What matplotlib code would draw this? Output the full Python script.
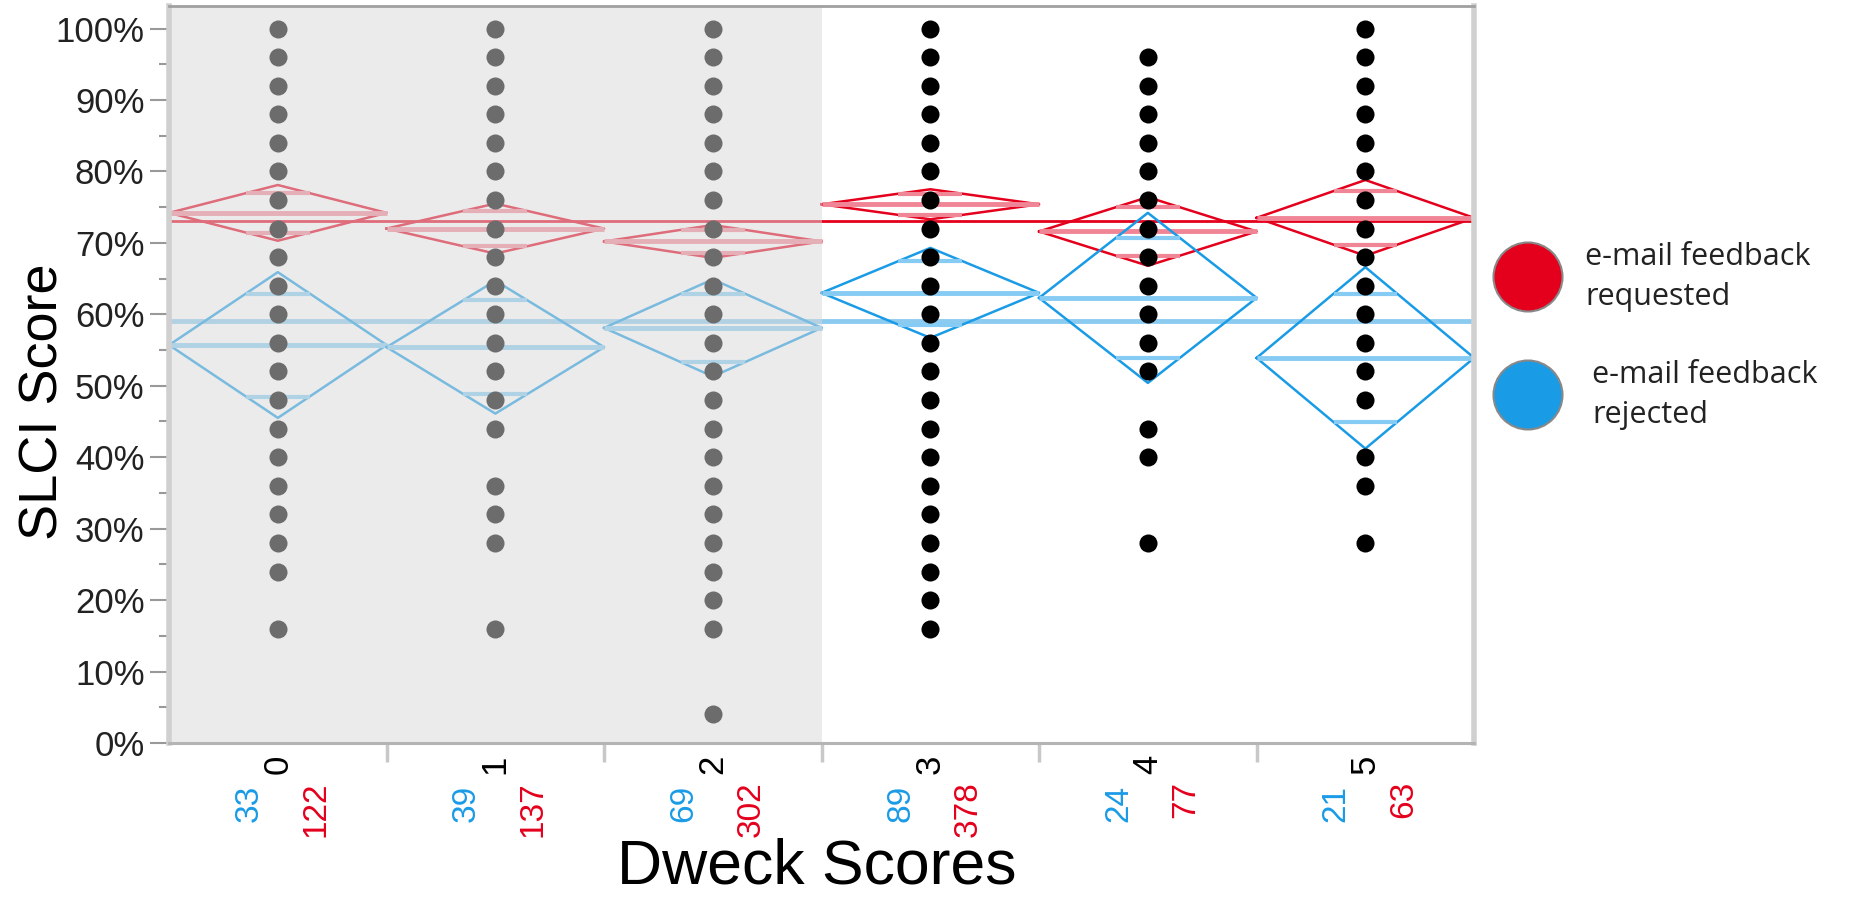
import numpy as np
import matplotlib.pyplot as plt
from matplotlib.patches import Rectangle, Circle

# Dweck score categories and counts per group
categories = ['0', '1', '2', '3', '4', '5']
n_rejected = [33, 39, 69, 89, 24, 21]
n_requested = [122, 137, 302, 378, 77, 63]

# SLCI score levels (percent) that have at least one student
points = [
    [100, 96, 92, 88, 84, 80, 76, 72, 68, 64, 60, 56, 52, 48, 44, 40, 36, 32, 28, 24, 16],
    [100, 96, 92, 88, 84, 80, 76, 72, 68, 64, 60, 56, 52, 48, 44, 36, 32, 28, 16],
    [100, 96, 92, 88, 84, 80, 76, 72, 68, 64, 60, 56, 52, 48, 44, 40, 36, 32, 28, 24, 20, 16, 4],
    [100, 96, 92, 88, 84, 80, 76, 72, 68, 64, 60, 56, 52, 48, 44, 40, 36, 32, 28, 24, 20, 16],
    [96, 92, 88, 84, 80, 76, 72, 68, 64, 60, 56, 52, 44, 40, 28],
    [100, 96, 92, 88, 84, 80, 76, 72, 68, 64, 60, 56, 52, 48, 40, 36, 28],
]

# means diamonds: group mean and half height of the 95% CI
red_mean = [74.2, 72.0, 70.2, 75.4, 71.6, 73.5]
red_half = [3.9, 3.5, 2.3, 2.1, 4.8, 5.3]
blue_mean = [55.7, 55.4, 58.1, 63.0, 62.3, 53.9]
blue_half = [10.2, 9.3, 6.8, 6.3, 11.9, 12.7]
red_grand = 73.0
blue_grand = 59.0

RED = '#e4001c'
BLUE = '#1a9be6'

fig = plt.figure(figsize=(18.54, 9.01), dpi=100)
ax = fig.add_axes([0.0912, 0.1754, 0.7039, 0.8179])
ytop = 103.15
ax.set_xlim(-0.5, 5.5)
ax.set_ylim(0, ytop)

# grand mean lines
ax.plot([-0.5, 5.5], [blue_grand, blue_grand], color='#8ccbf0', lw=3.5, zorder=1.5, solid_capstyle='butt')
ax.plot([-0.5, 5.5], [red_grand, red_grand], color=RED, lw=2, zorder=1.6, solid_capstyle='butt')


def diamond(i, m, h, col, light):
    ax.plot([i - 0.5, i, i + 0.5, i, i - 0.5], [m, m + h, m, m - h, m], color=col, lw=1.8, zorder=2)
    ax.plot([i - 0.5, i + 0.5], [m, m], color=light, lw=3.5, zorder=2, solid_capstyle='butt')
    d = h / np.sqrt(2)
    w = 0.5 * (1 - 1 / np.sqrt(2))
    for yy in (m + d, m - d):
        ax.plot([i - w, i + w], [yy, yy], color=light, lw=3, zorder=2, solid_capstyle='butt')


for i in range(len(categories)):
    diamond(i, red_mean[i], red_half[i], RED, '#f08595')
    diamond(i, blue_mean[i], blue_half[i], BLUE, '#86cbf3')
    ax.plot([i] * len(points[i]), points[i], 'o', color='black', ms=13, mew=0, zorder=3)

# dimmed region for the first three categories
ax.add_patch(Rectangle((-0.5, 0), 3, ytop, facecolor=(0.85, 0.85, 0.85), alpha=0.5,
                       edgecolor='none', zorder=4))

# y axis
ax.set_yticks(np.arange(0, 101, 10))
ax.set_yticks(np.arange(5, 100, 10), minor=True)
ax.set_yticklabels([f'{v}%' for v in range(0, 101, 10)], fontsize=25,
                   family='Liberation Sans', color='#222222')
ax.tick_params(axis='y', which='major', length=13.7, width=1.5, color='#999999', pad=4)
ax.tick_params(axis='y', which='minor', length=7, width=1.5, color='#999999')
ax.yaxis.get_major_ticks()[-1].tick1line.set_color(BLUE)

# x axis: ticks between groups, labels drawn as text
ax.set_xticks([0.5, 1.5, 2.5, 3.5, 4.5])
ax.set_xticklabels([])
ax.tick_params(axis='x', length=13.5, width=2.5, color='#c8c8c8')

for i, c in enumerate(categories):
    ax.annotate(c, xy=(i, 0), xycoords='data', xytext=(0, -8.6), textcoords='offset points',
                rotation=90, ha='center', va='top', fontsize=25, family='Liberation Sans',
                color='black', annotation_clip=False)
    ax.annotate(str(n_rejected[i]), xy=(i, 0), xytext=(-20.9, -30), textcoords='offset points',
                rotation=90, ha='center', va='top', fontsize=24, family='Liberation Sans',
                color=BLUE, annotation_clip=False)
    ax.annotate(str(n_requested[i]), xy=(i, 0), xytext=(27.4, -27.4), textcoords='offset points',
                rotation=90, ha='center', va='top', fontsize=24, family='Liberation Sans',
                color=RED, annotation_clip=False)

for side in ['left', 'right']:
    ax.spines[side].set_color('#d0d0d0')
    ax.spines[side].set_linewidth(4)
ax.spines['top'].set_color('#a0a0a0')
ax.spines['top'].set_linewidth(2)
ax.spines['bottom'].set_color('#b4b4b4')
ax.spines['bottom'].set_linewidth(2.2)
for sp in ax.spines.values():
    sp.set_zorder(5)

fig.text(44 / 1854, 1 - 402 / 901, 'SLCI Score', rotation=90, ha='center', va='center',
         fontsize=39, family='Liberation Sans')
fig.text(817 / 1854, 1 - 867 / 901, 'Dweck Scores', ha='center', va='center',
         fontsize=45, family='Liberation Sans')

# legend
leg = [(RED, 'e-mail feedback\nrequested', 277, 1585), (BLUE, 'e-mail feedback\nrejected', 395, 1592)]
for col, txt, yc, xt in leg:
    fig.add_artist(Circle((15.28, (901 - yc) / 100), 0.345, transform=fig.dpi_scale_trans,
                          facecolor=col, edgecolor='#888888', lw=1.5))
    fig.text(xt / 1854, 1 - yc / 901, txt, ha='left', va='center', fontsize=22,
             family='Open Sans', color='#222222', linespacing=1.45)

fig.savefig('out.png', dpi=100)
